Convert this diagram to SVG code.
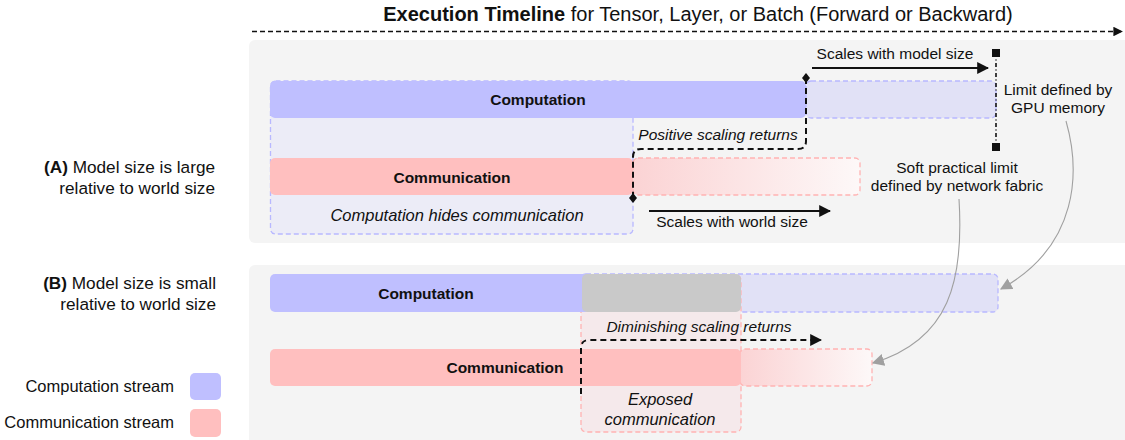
<svg xmlns="http://www.w3.org/2000/svg" width="1125" height="440" viewBox="0 0 1125 440">
<defs>
<style>
text{font-family:"Liberation Sans",Arial,Helvetica,sans-serif;fill:#111}
.t15{font-size:15.5px}
.t16{font-size:16.5px}
.t17{font-size:17.2px}
.b{font-weight:bold}
.i{font-style:italic}
.mid{text-anchor:middle}
.end{text-anchor:end}
.panel{fill:#f4f4f4}
.comp{fill:#bfbfff}
.comm{fill:#ffbfbf}
.bdash{fill:#e1e1f6;stroke:#b8b8ff;stroke-width:1.3;stroke-dasharray:5 3}
.pdash{stroke:#ffb3b3;stroke-width:1.3;stroke-dasharray:5 3}
.kdash{fill:none;stroke:#111;stroke-width:2;stroke-dasharray:6 4}
.arr{fill:none;stroke:#111;stroke-width:2}
.gray{fill:none;stroke:#a0a0a0;stroke-width:1.1}
</style>
<linearGradient id="fade" x1="0" y1="0" x2="1" y2="0">
<stop offset="0" stop-color="#fbd3d4"/>
<stop offset="1" stop-color="#fdf8f8"/>
</linearGradient>
<marker id="ah" viewBox="0 0 10 10" refX="9" refY="5" markerWidth="6" markerHeight="6" orient="auto" markerUnits="strokeWidth">
<path d="M0,0 L10,5 L0,10 z" fill="#111"/>
</marker>
<marker id="ahk" viewBox="0 0 10 10" refX="9" refY="5" markerWidth="6" markerHeight="6" orient="auto" markerUnits="strokeWidth">
<path d="M0,0 L10,5 L0,10 z" fill="#111"/>
</marker>
<marker id="ahg" viewBox="0 0 10 10" refX="9" refY="5" markerWidth="11" markerHeight="11" orient="auto" markerUnits="strokeWidth">
<path d="M0,0 L10,5 L0,10 z" fill="#a0a0a0"/>
</marker>
<marker id="dia" viewBox="0 0 8 10" refX="4" refY="5" markerWidth="4" markerHeight="5" markerUnits="strokeWidth">
<path d="M4,0 L8,5 L4,10 L0,5 z" fill="#111"/>
</marker>
<marker id="sq" viewBox="0 0 8 8" refX="4" refY="4" markerWidth="5" markerHeight="5" markerUnits="strokeWidth">
<rect x="0" y="0" width="8" height="8" fill="#111"/>
</marker>
</defs>
<rect width="1125" height="440" fill="#fff"/>

<g id="title">
<text x="698" y="21" class="mid" font-size="20"><tspan class="b">Execution Timeline</tspan> for Tensor, Layer, or Batch (Forward or Backward)</text>
<line x1="252" y1="31.5" x2="1122" y2="31.5" stroke="#111" stroke-width="1.6" stroke-dasharray="5 3" marker-end="url(#ahk)"/>
</g>

<g id="panelA">
<rect class="panel" x="249" y="40" width="890" height="203" rx="6"/>
</g>
<g id="panelB">
<rect class="panel" x="249" y="265" width="890" height="190" rx="6"/>
</g>

<g id="labels">
<text x="215" y="173" class="t17 end"><tspan class="b">(A)</tspan> Model size is large</text>
<text x="215" y="194" class="t17 end">relative to world size</text>
<text x="216" y="289" class="t17 end"><tspan class="b">(B)</tspan> Model size is small</text>
<text x="216" y="310" class="t17 end">relative to world size</text>
</g>

<g id="legend">
<text x="174" y="392" class="t16 end">Computation stream</text>
<rect class="comp" x="190" y="373" width="31" height="27" rx="5"/>
<text x="174" y="428" class="t16 end">Communication stream</text>
<rect class="comm" x="190" y="409" width="31" height="28" rx="5"/>
</g>

<!-- Panel A -->
<g id="hidesBoxA">
<rect x="270.5" y="81" width="362.5" height="153" rx="5" fill="#ececf7" stroke="#b8b8ff" stroke-width="1.3" stroke-dasharray="5 3"/>
<text x="457" y="221" class="t16 i mid">Computation hides communication</text>
</g>
<g id="compExtA">
<rect class="bdash" x="806" y="81" width="190" height="37" rx="5"/>
</g>
<g id="computationA">
<rect class="comp" x="270" y="81" width="536" height="37" rx="5"/>
<text x="538" y="105" class="t15 b mid">Computation</text>
</g>
<g id="commExtA">
<rect class="pdash" fill="url(#fade)" x="633" y="158" width="227" height="37" rx="5"/>
</g>
<g id="communicationA">
<rect class="comm" x="270" y="158" width="363" height="37" rx="5"/>
<text x="452" y="183" class="t15 b mid">Communication</text>
</g>
<g id="annotationsA">
<text x="718" y="140" class="t15 i mid">Positive scaling returns</text>
<text x="895" y="59" class="t15 mid">Scales with model size</text>
<text x="732" y="227" class="t15 mid">Scales with world size</text>
<text x="1058" y="95" class="t15 mid">Limit defined by</text>
<text x="1058" y="113" class="t15 mid">GPU memory</text>
<text x="957" y="173" class="t15 mid">Soft practical limit</text>
<text x="957" y="191" class="t15 mid">defined by network fabric</text>
</g>

<!-- Panel B -->
<g id="compExtB">
<rect class="bdash" x="581" y="274" width="417" height="38" rx="5"/>
</g>
<g id="exposedBox">
<rect class="pdash" fill="#f5e9eb" x="581" y="275" width="160" height="157" rx="5"/>
<text x="660" y="405" class="t16 i mid">Exposed</text>
<text x="660" y="425" class="t16 i mid">communication</text>
</g>
<g id="computationB">
<rect class="comp" x="270" y="274" width="320" height="38" rx="5"/>
<rect fill="#bfbfff" x="575" y="274" width="7" height="38"/>
<text x="426" y="299" class="t15 b mid">Computation</text>
</g>
<g id="overlapB">
<rect fill="#c9c9c9" x="582" y="274" width="159" height="38" rx="5"/>
</g>
<g id="commExtB">
<rect class="pdash" fill="url(#fade)" x="740" y="349" width="132" height="37" rx="5"/>
</g>
<g id="communicationB">
<rect class="comm" x="270" y="349" width="471" height="37" rx="5"/>
<text x="505" y="373" class="t15 b mid">Communication</text>
</g>
<g id="annotationsB">
<text x="699" y="332" class="t15 i mid">Diminishing scaling returns</text>
</g>

<g id="connectors">
<path class="kdash" d="M806,78 L806,141 Q806,149 798,149 L641,149 Q633,149 633,157 L633,198" marker-start="url(#dia)" marker-end="url(#dia)"/>
<line class="arr" x1="812" y1="68" x2="988" y2="68" marker-end="url(#ah)"/>
<line class="arr" x1="649" y1="211" x2="830" y2="211" marker-end="url(#ah)"/>
<line x1="996" y1="53" x2="996" y2="147" stroke="#111" stroke-width="1.6" stroke-dasharray="4 2.5 1 2.5" marker-start="url(#sq)" marker-end="url(#sq)"/>
<path class="kdash" d="M581,394 L581,348 Q581,340 589,340 L821,340" marker-end="url(#ahk)"/>
<path class="gray" d="M1066,121 C1080,170 1080,245 1001,289" marker-end="url(#ahg)"/>
<path class="gray" d="M959,199 C964,280 950,340 873,363" marker-end="url(#ahg)"/>
</g>
</svg>
